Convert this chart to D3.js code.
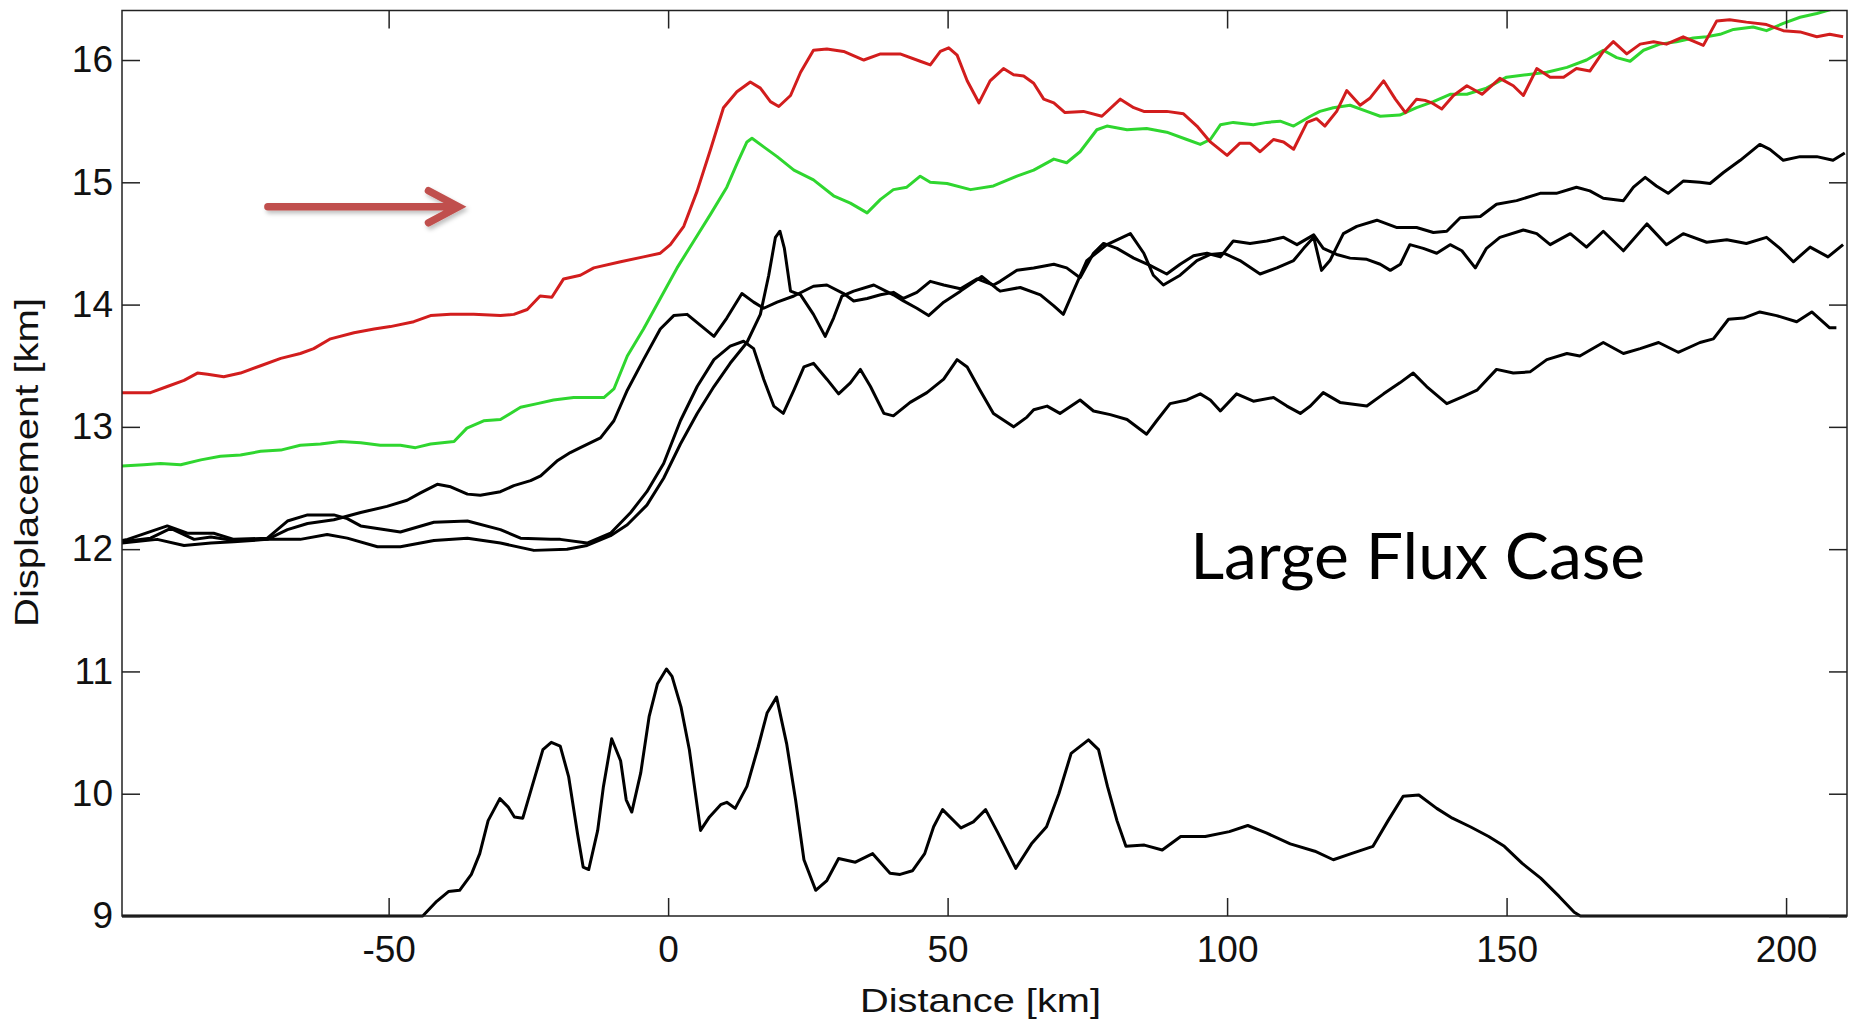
<!DOCTYPE html>
<html>
<head>
<meta charset="utf-8">
<script src="https://cdn.jsdelivr.net/npm/d3@7"></script>
<style>
  html, body { margin: 0; padding: 0; background: #fff; }
  svg { display: block; }
</style>
</head>
<body>
<svg width="1858" height="1023"></svg>
<script>
// data: [distance km, displacement km]
const xTicks = [-50, 0, 50, 100, 150, 200];
const yTicks = [9, 10, 11, 12, 13, 14, 15, 16];

const redLine = [[-97.7,13.28],[-92.6,13.28],[-89.6,13.33],[-86.6,13.38],[-84.2,13.44],[-82.4,13.43],[-79.5,13.41],[-76.5,13.44],[-72.9,13.50],[-69.3,13.56],[-65.8,13.60],[-63.4,13.64],[-60.4,13.72],[-56.2,13.77],[-52.6,13.80],[-49.7,13.82],[-45.5,13.86],[-42.5,13.91],[-38.9,13.92],[-34.8,13.92],[-30.0,13.91],[-27.6,13.92],[-25.2,13.96],[-22.9,14.07],[-20.8,14.06],[-18.7,14.21],[-15.7,14.24],[-13.3,14.30],[-8.5,14.35],[-4.4,14.39],[-1.4,14.42],[0.4,14.49],[2.8,14.64],[5.2,14.93],[7.6,15.27],[9.9,15.61],[12.3,15.74],[14.7,15.82],[16.5,15.77],[18.3,15.66],[19.8,15.62],[21.9,15.71],[23.7,15.90],[26.0,16.08],[28.4,16.09],[31.4,16.07],[35.0,16.00],[38.0,16.05],[41.5,16.05],[45.1,15.99],[46.9,15.96],[48.7,16.07],[50.2,16.10],[51.7,16.04],[53.5,15.83],[55.6,15.65],[57.6,15.83],[60.0,15.93],[61.8,15.88],[63.6,15.87],[65.4,15.81],[67.2,15.68],[69.0,15.65],[71.0,15.57],[74.3,15.58],[77.6,15.54],[80.9,15.68],[83.3,15.61],[85.1,15.58],[89.2,15.58],[92.2,15.56],[94.6,15.46],[97.0,15.33],[100.0,15.22],[102.3,15.32],[104.1,15.32],[105.9,15.25],[108.3,15.35],[110.1,15.33],[111.9,15.27],[114.3,15.49],[116.0,15.52],[117.5,15.46],[119.6,15.58],[121.4,15.75],[123.8,15.63],[125.6,15.69],[128.0,15.83],[130.1,15.68],[131.9,15.57],[133.9,15.68],[135.4,15.67],[136.6,15.65],[138.4,15.60],[140.5,15.71],[142.9,15.79],[145.6,15.72],[148.8,15.85],[151.2,15.79],[153.0,15.71],[155.4,15.93],[157.8,15.86],[160.2,15.86],[162.5,15.93],[164.9,15.91],[167.3,16.07],[169.1,16.15],[171.5,16.05],[173.9,16.13],[176.3,16.15],[178.6,16.13],[181.6,16.19],[185.2,16.12],[187.6,16.32],[189.9,16.33],[192.9,16.31],[196.5,16.29],[199.5,16.24],[202.5,16.23],[205.5,16.19],[207.8,16.21],[210.2,16.19]];

const greenLine = [[-97.7,12.68],[-93.8,12.69],[-90.8,12.70],[-87.2,12.69],[-83.6,12.73],[-80.1,12.76],[-76.5,12.77],[-72.9,12.80],[-69.3,12.81],[-65.8,12.85],[-62.2,12.86],[-58.6,12.88],[-55.0,12.87],[-51.5,12.85],[-47.9,12.85],[-45.2,12.83],[-42.5,12.86],[-38.3,12.88],[-36.0,12.99],[-33.0,13.05],[-30.0,13.06],[-26.4,13.16],[-23.4,13.19],[-20.5,13.22],[-16.9,13.24],[-11.5,13.24],[-9.7,13.31],[-7.3,13.58],[-4.4,13.80],[-1.4,14.05],[1.6,14.30],[4.6,14.52],[7.6,14.74],[10.5,14.96],[12.3,15.15],[14.1,15.33],[15.0,15.36],[17.1,15.29],[19.5,15.21],[22.5,15.10],[26.0,15.02],[29.6,14.89],[32.6,14.83],[35.6,14.75],[38.0,14.86],[40.3,14.94],[42.7,14.96],[45.1,15.05],[46.9,15.00],[49.9,14.99],[54.1,14.94],[58.2,14.97],[62.4,15.05],[65.4,15.10],[69.0,15.19],[71.3,15.16],[73.7,15.25],[76.7,15.43],[78.5,15.46],[82.1,15.43],[85.6,15.44],[89.2,15.41],[92.8,15.35],[95.2,15.31],[97.0,15.35],[98.8,15.47],[101.1,15.49],[104.7,15.47],[107.1,15.49],[109.5,15.50],[111.9,15.46],[114.9,15.54],[116.6,15.58],[119.0,15.61],[122.0,15.63],[125.0,15.58],[127.4,15.54],[130.9,15.55],[133.9,15.61],[136.9,15.66],[139.9,15.72],[142.9,15.72],[146.4,15.77],[150.0,15.86],[153.6,15.88],[157.2,15.90],[160.8,15.94],[164.3,16.00],[167.3,16.08],[169.7,16.02],[172.1,15.99],[174.5,16.08],[177.4,16.13],[180.4,16.15],[183.4,16.18],[185.8,16.19],[188.2,16.21],[190.6,16.25],[194.1,16.27],[196.5,16.24],[199.5,16.30],[202.5,16.35],[205.5,16.38],[207.8,16.41],[210.9,16.46]];

const blackA = [[-97.7,12.06],[-92.6,12.09],[-89.0,12.17],[-84.8,12.08],[-81.8,12.10],[-77.7,12.07],[-71.7,12.08],[-68.1,12.16],[-64.5,12.21],[-59.8,12.24],[-55.0,12.30],[-50.3,12.35],[-46.7,12.40],[-44.3,12.46],[-41.3,12.53],[-38.9,12.51],[-35.9,12.45],[-33.6,12.44],[-30.0,12.47],[-27.6,12.52],[-24.6,12.56],[-22.8,12.60],[-19.9,12.72],[-17.5,12.79],[-15.7,12.83],[-12.1,12.91],[-9.7,13.05],[-7.3,13.30],[-4.4,13.55],[-1.4,13.80],[1.0,13.91],[3.4,13.92],[5.8,13.83],[8.2,13.74],[10.5,13.89],[13.2,14.09],[15.3,14.02],[17.1,13.97],[19.5,14.02],[22.5,14.07],[26.0,14.15],[28.4,14.16],[31.4,14.09],[33.2,14.03],[35.6,14.05],[38.0,14.08],[40.3,14.10],[42.1,14.05],[44.5,14.10],[46.9,14.19],[49.3,14.16],[52.3,14.13],[55.3,14.21],[58.2,14.16],[59.4,14.19],[62.4,14.28],[65.4,14.30],[69.0,14.33],[71.3,14.30],[73.7,14.22],[76.1,14.42],[77.9,14.50],[80.3,14.46],[83.3,14.38],[86.2,14.32],[89.2,14.25],[91.6,14.33],[94.0,14.40],[96.4,14.42],[98.8,14.39],[101.1,14.52],[104.1,14.50],[107.1,14.52],[110.1,14.55],[112.5,14.49],[115.5,14.57],[117.2,14.46],[119.6,14.41],[122.0,14.38],[125.0,14.37],[127.4,14.33],[129.2,14.28],[131.0,14.33],[132.7,14.49],[135.1,14.46],[137.5,14.42],[139.9,14.49],[142.0,14.44],[144.4,14.30],[146.4,14.46],[148.8,14.55],[153.0,14.61],[155.4,14.58],[157.8,14.49],[161.4,14.58],[164.3,14.47],[167.3,14.60],[170.9,14.44],[175.1,14.66],[178.6,14.49],[181.6,14.58],[185.8,14.51],[189.4,14.53],[192.9,14.50],[196.5,14.55],[198.9,14.46],[201.3,14.35],[204.3,14.47],[207.5,14.39],[210.2,14.49]];

const blackB = [[-97.7,12.07],[-96.7,12.08],[-89.6,12.19],[-86.0,12.13],[-81.3,12.13],[-77.7,12.08],[-71.7,12.09],[-68.1,12.23],[-64.5,12.28],[-59.8,12.28],[-57.4,12.25],[-55.0,12.19],[-47.9,12.14],[-41.9,12.22],[-35.9,12.23],[-30.0,12.16],[-26.4,12.09],[-21.0,12.08],[-19.3,12.08],[-14.5,12.05],[-10.3,12.13],[-6.7,12.30],[-3.8,12.47],[-0.8,12.70],[2.2,13.05],[5.2,13.33],[8.2,13.55],[11.1,13.66],[13.5,13.70],[15.3,13.64],[17.1,13.39],[18.9,13.17],[20.6,13.11],[22.5,13.30],[24.3,13.49],[26.0,13.52],[28.4,13.39],[30.5,13.27],[32.6,13.36],[34.4,13.47],[36.2,13.33],[38.6,13.11],[40.3,13.09],[43.3,13.20],[46.3,13.28],[49.3,13.39],[51.7,13.55],[53.5,13.49],[55.8,13.30],[58.2,13.11],[61.8,13.00],[64.2,13.08],[65.4,13.14],[67.8,13.17],[70.1,13.11],[73.7,13.22],[76.1,13.13],[79.1,13.10],[82.1,13.06],[85.6,12.94],[87.4,13.05],[89.8,13.19],[92.8,13.22],[95.2,13.27],[97.0,13.22],[98.8,13.13],[101.7,13.27],[104.7,13.21],[108.3,13.24],[110.7,13.17],[113.1,13.11],[114.9,13.17],[117.2,13.28],[120.2,13.20],[125.0,13.17],[128.0,13.27],[130.9,13.36],[133.3,13.44],[135.7,13.33],[139.3,13.19],[142.3,13.25],[144.7,13.30],[148.2,13.47],[151.2,13.44],[154.2,13.45],[157.2,13.55],[160.8,13.60],[163.1,13.58],[167.3,13.69],[170.9,13.60],[173.9,13.64],[177.2,13.69],[180.7,13.61],[184.6,13.69],[187.0,13.72],[189.7,13.88],[192.4,13.89],[195.3,13.94],[198.3,13.91],[201.9,13.86],[204.6,13.94],[206.1,13.88],[207.8,13.81],[209.0,13.81]];

const blackC = [[-97.7,12.05],[-91.4,12.08],[-86.6,12.03],[-81.8,12.05],[-77.7,12.06],[-71.7,12.08],[-65.8,12.08],[-61.0,12.12],[-57.4,12.09],[-52.0,12.02],[-47.9,12.02],[-41.9,12.07],[-35.9,12.09],[-30.0,12.05],[-24.0,11.99],[-18.1,12.00],[-14.5,12.03],[-10.3,12.11],[-7.3,12.20],[-3.8,12.36],[-0.8,12.58],[2.2,12.86],[5.2,13.11],[8.2,13.33],[11.1,13.52],[14.1,13.69],[16.5,13.92],[18.0,14.24],[19.2,14.55],[20.0,14.60],[20.8,14.46],[21.9,14.11],[23.7,14.08],[26.0,13.92],[28.1,13.74],[29.6,13.89],[31.1,14.07],[33.2,14.11],[36.8,14.16],[40.3,14.08],[42.1,14.03],[44.5,13.97],[46.6,13.91],[49.3,14.02],[52.3,14.11],[56.1,14.23],[58.8,14.13],[59.4,14.11],[63.0,14.14],[66.6,14.08],[69.0,13.99],[70.7,13.92],[72.5,14.11],[74.9,14.36],[78.5,14.49],[82.7,14.58],[85.1,14.42],[86.8,14.24],[88.6,14.16],[91.6,14.24],[94.6,14.36],[97.0,14.41],[99.4,14.42],[102.3,14.36],[105.9,14.25],[108.9,14.30],[111.9,14.36],[113.7,14.46],[115.5,14.55],[116.9,14.28],[118.4,14.36],[120.8,14.58],[123.2,14.64],[126.8,14.69],[130.4,14.63],[133.9,14.63],[136.9,14.59],[139.3,14.60],[141.7,14.71],[145.3,14.72],[148.2,14.82],[151.8,14.85],[156.0,14.91],[158.9,14.91],[162.5,14.96],[164.9,14.93],[167.3,14.87],[170.9,14.85],[172.7,14.96],[174.8,15.04],[176.8,14.97],[178.9,14.91],[181.6,15.01],[184.6,15.00],[186.4,14.99],[188.8,15.08],[191.8,15.18],[195.3,15.31],[197.1,15.27],[199.5,15.18],[202.5,15.21],[205.5,15.21],[208.4,15.18],[210.5,15.24]];

const topoLine = [[-97.7,9.0],[-43.9,9.0],[-41.4,9.12],[-39.3,9.20],[-37.3,9.21],[-35.2,9.34],[-33.7,9.51],[-32.2,9.78],[-30.1,9.96],[-28.6,9.89],[-27.5,9.81],[-26.0,9.80],[-24.4,10.05],[-22.4,10.36],[-20.9,10.42],[-19.3,10.39],[-17.8,10.14],[-16.2,9.67],[-15.2,9.40],[-14.2,9.38],[-12.6,9.70],[-11.6,10.05],[-10.1,10.45],[-8.5,10.27],[-7.5,9.95],[-6.5,9.85],[-4.9,10.17],[-3.4,10.63],[-1.9,10.90],[-0.3,11.02],[0.7,10.96],[2.3,10.71],[3.8,10.36],[5.8,9.70],[7.4,9.81],[9.4,9.91],[10.5,9.93],[12.0,9.88],[14.1,10.06],[16.1,10.38],[17.7,10.66],[19.4,10.79],[21.2,10.41],[22.8,9.95],[24.3,9.46],[26.4,9.21],[28.4,9.29],[30.5,9.47],[33.5,9.44],[36.6,9.51],[39.7,9.35],[41.5,9.34],[43.7,9.37],[45.9,9.51],[47.5,9.73],[49.1,9.87],[52.4,9.72],[54.6,9.77],[56.8,9.87],[59.0,9.68],[62.2,9.39],[65.0,9.59],[67.7,9.73],[69.9,10.00],[72.1,10.33],[75.2,10.44],[77.0,10.36],[78.6,10.06],[80.3,9.78],[81.9,9.57],[85.2,9.58],[88.4,9.54],[91.7,9.65],[96.1,9.65],[100.4,9.69],[103.7,9.74],[107.0,9.68],[111.3,9.59],[115.7,9.53],[119.0,9.46],[122.2,9.51],[126.1,9.57],[128.8,9.78],[131.5,9.98],[134.3,9.99],[137.5,9.88],[140.3,9.80],[143.5,9.73],[146.8,9.65],[149.6,9.57],[152.8,9.43],[156.1,9.31],[159.4,9.16],[162.1,9.03],[163.2,9.0],[210.9,9.0]];

// annotation (in data units)
const arrowFrom = [-71.6, 14.80];
const arrowTo = [-37.5, 14.80];
const caseLabel = { text: "Large Flux Case", x: 93.4, y: 11.76 };

const svg = d3.select("svg");
const plotLeft = 122, plotRight = 1847, plotTop = 10.5, plotBottom = 916;

const x = d3.scaleLinear().domain([-97.7, 210.9]).range([plotLeft, plotRight]);
const y = d3.scaleLinear().domain([9, 16.405]).range([plotBottom, plotTop]);

svg.append("rect").attr("width", 1858).attr("height", 1023).attr("fill", "#fff");

const defs = svg.append("defs");
// clip a little below the axis so the line resting on 9 keeps its full width
defs.append("clipPath").attr("id", "plot")
  .append("rect")
  .attr("x", plotLeft).attr("y", plotTop)
  .attr("width", plotRight - plotLeft).attr("height", plotBottom - plotTop + 2);

const line = d3.line()
  .x((d) => x(d[0]))
  .y((d) => y(d[1]));

const plot = svg.append("g").attr("clip-path", "url(#plot)");

const series = [
  { data: topoLine, color: "#000" },
  { data: blackB, color: "#000" },
  { data: blackC, color: "#000" },
  { data: blackA, color: "#000" },
  { data: greenLine, color: "#2fd62f" },
  { data: redLine, color: "#d21d1d" },
];

plot.selectAll("path")
  .data(series)
  .join("path")
  .attr("fill", "none")
  .attr("stroke", (d) => d.color)
  .attr("stroke-width", 3)
  .attr("stroke-linejoin", "round")
  .attr("d", (d) => line(d.data));

// axes: MATLAB style box with inward ticks
const tickFont = "'Liberation Sans', Arial, Helvetica, sans-serif";
const plain = (d) => String(d); // hyphen minus like the original

svg.append("g")
  .attr("transform", `translate(0,${plotBottom})`)
  .call(d3.axisBottom(x).tickValues(xTicks).tickFormat(plain).tickSize(-18).tickSizeOuter(0).tickPadding(20));
svg.append("g")
  .attr("transform", `translate(${plotLeft},0)`)
  .call(d3.axisLeft(y).tickValues(yTicks).tickFormat(plain).tickSize(-18).tickSizeOuter(0).tickPadding(9));
svg.append("g")
  .attr("transform", `translate(0,${plotTop})`)
  .call(d3.axisTop(x).tickValues(xTicks).tickSize(-18).tickSizeOuter(0).tickFormat(""));
svg.append("g")
  .attr("transform", `translate(${plotRight},0)`)
  .call(d3.axisRight(y).tickValues(yTicks).tickSize(-18).tickSizeOuter(0).tickFormat(""));

svg.selectAll(".domain").remove();
svg.selectAll(".tick line").attr("stroke", "#222").attr("stroke-width", 1.5);
svg.selectAll(".tick text")
  .attr("font-family", tickFont)
  .attr("font-size", 37)
  .attr("fill", "#111");

svg.append("rect")
  .attr("x", plotLeft).attr("y", plotTop)
  .attr("width", plotRight - plotLeft).attr("height", plotBottom - plotTop)
  .attr("fill", "none")
  .attr("stroke", "#222")
  .attr("stroke-width", 1.5);

svg.append("text")
  .attr("x", 980.5).attr("y", 1012)
  .attr("text-anchor", "middle")
  .attr("font-family", tickFont)
  .attr("font-size", 34)
  .attr("textLength", 241)
  .attr("lengthAdjust", "spacingAndGlyphs")
  .attr("fill", "#111")
  .text("Distance [km]");

svg.append("text")
  .attr("transform", "translate(38,462.5) rotate(-90)")
  .attr("text-anchor", "middle")
  .attr("font-family", tickFont)
  .attr("font-size", 34)
  .attr("textLength", 329)
  .attr("lengthAdjust", "spacingAndGlyphs")
  .attr("fill", "#111")
  .text("Displacement [km]");

svg.append("text")
  .attr("x", x(caseLabel.x)).attr("y", y(caseLabel.y))
  .attr("font-family", "Lato, 'Open Sans', sans-serif")
  .attr("font-size", 64)
  .attr("textLength", 455)
  .attr("lengthAdjust", "spacingAndGlyphs")
  .attr("fill", "#000")
  .text(caseLabel.text);

// red arrow with a soft shadow
const filt = defs.append("filter").attr("id", "shadow")
  .attr("x", "-20%").attr("y", "-50%").attr("width", "140%").attr("height", "200%");
filt.append("feDropShadow")
  .attr("dx", 2).attr("dy", 3).attr("stdDeviation", 2)
  .attr("flood-color", "#000").attr("flood-opacity", 0.25);

const ax0 = x(arrowFrom[0]), ax1 = x(arrowTo[0]), ay = y(arrowTo[1]);
svg.append("path")
  .attr("d", `M${ax0},${ay}H${ax1 - 3}M${ax1 - 30},${ay - 16}L${ax1},${ay}L${ax1 - 30},${ay + 16}`)
  .attr("fill", "none")
  .attr("stroke", "#c0504d")
  .attr("stroke-width", 7.5)
  .attr("stroke-linecap", "round")
  .attr("stroke-linejoin", "miter")
  .attr("filter", "url(#shadow)");
</script>
</body>
</html>
